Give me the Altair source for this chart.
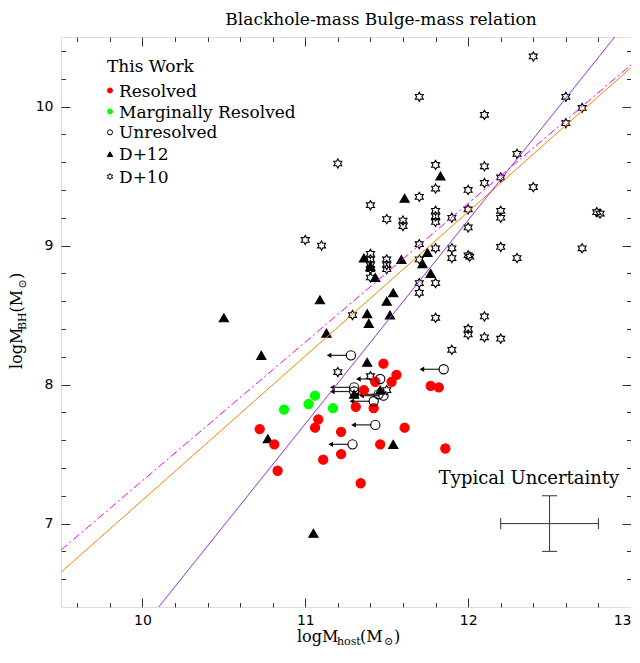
import altair as alt
import pandas as pd

# ---------------- data ----------------
resolved_x = [11.48, 11.56, 11.53, 11.43, 11.36, 11.77, 11.82, 11.31, 11.42, 11.08, 11.06,
              10.72, 10.81, 11.22, 11.61, 11.46, 11.86, 11.22, 11.11, 10.83, 11.34]
resolved_y = [8.15, 8.07, 8.02, 8.02, 7.96, 7.99, 7.98, 7.84, 7.83, 7.75, 7.69,
              7.68, 7.57, 7.66, 7.69, 7.57, 7.54, 7.50, 7.46, 7.38, 7.29]

marginal_x = [10.87, 11.02, 11.06, 11.17]
marginal_y = [7.82, 7.86, 7.92, 7.83]

unresolved_x = [11.28, 11.85, 11.46, 11.30, 11.30, 11.45, 11.48, 11.42, 11.43, 11.29]
unresolved_y = [8.21, 8.11, 8.04, 7.98, 7.95, 7.93, 7.92, 7.88, 7.71, 7.57]
upper_limit_len = 0.15

d12_x = [11.83, 11.61, 11.36, 11.59, 11.75, 11.72, 11.40, 11.43, 11.77, 11.54, 11.50, 11.09,
         11.38, 11.39, 11.52, 11.13, 10.73, 11.38, 10.77, 11.54, 11.30, 11.46, 10.50, 11.05]
d12_y = [9.50, 9.34, 8.91, 8.90, 8.95, 8.87, 8.85, 8.77, 8.80, 8.66, 8.60, 8.61,
         8.51, 8.44, 8.50, 8.37, 8.21, 8.16, 7.61, 7.57, 7.93, 7.96, 8.48, 6.93]

d10_x = [12.40, 11.70, 12.10, 12.60, 12.70, 12.60, 12.30, 11.20, 11.80, 12.10, 11.80, 12.10,
         12.20, 12.40, 12.00, 11.40, 11.70, 11.50, 11.60, 11.60, 11.80, 11.80, 11.80, 11.90,
         12.00, 12.20, 12.20, 12.79, 12.81, 12.00, 11.00, 11.10, 11.70, 11.80, 11.90, 11.90,
         12.00, 12.01, 12.20, 12.30, 12.70, 11.40, 11.40, 11.40, 11.40, 11.40, 11.50, 11.50,
         11.50, 11.70, 11.70, 11.70, 11.80, 11.29, 11.80, 12.00, 12.00, 12.10, 12.10, 12.20,
         11.90, 11.20, 11.40, 11.50]
d10_y = [10.36, 10.07, 9.94, 10.07, 9.99, 9.88, 9.66, 9.59, 9.58, 9.57, 9.41, 9.45,
         9.49, 9.42, 9.40, 9.29, 9.35, 9.19, 9.18, 9.14, 9.25, 9.21, 9.17, 9.20,
         9.26, 9.25, 9.20, 9.24, 9.23, 9.13, 9.04, 9.00, 9.01, 8.98, 8.98, 8.91,
         8.93, 8.92, 8.99, 8.91, 8.98, 8.94, 8.90, 8.86, 8.83, 8.77, 8.90, 8.86,
         8.83, 8.90, 8.73, 8.66, 8.73, 8.50, 8.48, 8.40, 8.36, 8.49, 8.34, 8.33,
         8.25, 8.09, 8.06, 7.96]

# fit lines (end points)
fit_names = ["orange", "magenta", "purple"]
fit_x0 = [9.50, 9.50, 10.10]
fit_y0 = [6.65, 6.81, 6.40]
fit_x1 = [13.00, 13.00, 12.90]
fit_y1 = [10.28, 10.30, 10.50]

# typical uncertainty
err_x = [12.5]
err_y = [7.0]
err_dx = [0.3]
err_dy = [0.2]

categories = ["Resolved", "Marginally Resolved", "Unresolved", "D+12", "D+10"]
x_major = [10, 11, 12, 13]
x_minor = [9.6, 9.8, 10.2, 10.4, 10.6, 10.8, 11.2, 11.4, 11.6, 11.8, 12.2, 12.4, 12.6, 12.8]
y_major = [7, 8, 9, 10]
y_minor = [6.6, 6.8, 7.2, 7.4, 7.6, 7.8, 8.2, 8.4, 8.6, 8.8, 9.2, 9.4, 9.6, 9.8, 10.2, 10.4]

title_text = "Blackhole-mass Bulge-mass relation"
legend_title = "This Work"
unc_text = "Typical Uncertainty"

# ---------------- build tables ----------------
rows = []
for cat, xs_, ys_ in [("D+10", d10_x, d10_y), ("D+12", d12_x, d12_y),
                      ("Resolved", resolved_x, resolved_y),
                      ("Marginally Resolved", marginal_x, marginal_y),
                      ("Unresolved", unresolved_x, unresolved_y)]:
    for a, b in zip(xs_, ys_):
        rows.append({"x": a, "y": b, "cat": cat})
pts = pd.DataFrame(rows)
unres = pd.DataFrame({"x": unresolved_x, "y": unresolved_y, "L": upper_limit_len})
fits = pd.DataFrame({
    "name": fit_names * 2,
    "x": fit_x0 + fit_x1,
    "y": fit_y0 + fit_y1,
})
err = pd.DataFrame({"x": err_x, "y": err_y, "dx": err_dx, "dy": err_dy})

SERIF = "DejaVu Serif"
SANS = "DejaVu Sans"
HEX = ("M0,-1L0.289,-0.5L0.866,-0.5L0.577,0L0.866,0.5L0.289,0.5L0,1L-0.289,0.5"
       "L-0.866,0.5L-0.577,0L-0.866,-0.5L-0.289,-0.5Z")
fills = ["#ff0000", "#00ff00", "transparent", "#000000", "transparent"]
strokes = ["#ff0000", "#00ff00", "#000000", "#000000", "#000000"]
shapes = ["circle", "circle", "circle", "triangle-up", HEX]
sizes = [85, 85, 72, 50, 80]
legend_sizes = [25, 25, 25, 30, 36]

xs = alt.Scale(domain=[9.5, 13], nice=False, zero=False)
ys = alt.Scale(domain=[6.4, 10.5], nice=False, zero=False)


def ax(orient, values, size, labels):
    return alt.Axis(orient=orient, values=values, tickSize=size, offset=-size, domain=False,
                    grid=False, labels=labels, title=None, tickColor="#333", tickWidth=1,
                    labelFont=SANS, labelFontSize=14, labelColor="black",
                    labelPadding=8 if orient in ("left", "right") else 6,
                    labelFlush=(orient == "bottom"), labelOverlap=False)


def X(field="x", axis=None):
    return alt.X(f"{field}:Q", scale=xs, axis=axis)


def Y(field="y", axis=None):
    return alt.Y(f"{field}:Q", scale=ys, axis=axis)


# fit lines
line_orange = alt.Chart(fits).transform_filter(alt.datum.name == "orange").mark_line(
    color="#ff8000", strokeWidth=1, clip=True).encode(x=X(), y=Y())
line_magenta = alt.Chart(fits).transform_filter(alt.datum.name == "magenta").mark_line(
    color="#ff00ff", strokeWidth=1, strokeDash=[8, 3, 2, 3], clip=True).encode(x=X(), y=Y())
line_purple = alt.Chart(fits).transform_filter(alt.datum.name == "purple").mark_line(
    color="#9a30e0", strokeWidth=1, clip=True).encode(x=X(), y=Y())

# upper-limit arrows
shaft = alt.Chart(unres).transform_calculate(
    xs0="datum.x - 0.025", xe="datum.x - datum.L + 0.02").mark_rule(
    color="#222", strokeWidth=1.2).encode(x=X("xs0"), x2="xe:Q", y=Y())
head = alt.Chart(unres).transform_calculate(xh="datum.x - datum.L + 0.016").mark_point(
    shape="triangle-left", filled=True, color="black", size=28, opacity=1).encode(
    x=X("xh"), y=Y())

points = alt.Chart(pts).mark_point(filled=True, opacity=1, strokeWidth=1.1).encode(
    x=X(), y=Y(),
    fill=alt.Fill("cat:N", scale=alt.Scale(domain=categories, range=fills), legend=None),
    stroke=alt.Stroke("cat:N", scale=alt.Scale(domain=categories, range=strokes), legend=None),
    shape=alt.Shape("cat:N", scale=alt.Scale(domain=categories, range=shapes), legend=None),
    size=alt.Size("cat:N", scale=alt.Scale(domain=categories, range=sizes), legend=None),
)

# typical uncertainty cross
errc = alt.Chart(err).transform_calculate(
    xl="datum.x - datum.dx", xr="datum.x + datum.dx",
    yl="datum.y - datum.dy", yh="datum.y + datum.dy")
eh = errc.mark_rule(color="#333", strokeWidth=1).encode(x=X("xl"), x2="xr:Q", y=Y())
ev = errc.mark_rule(color="#333", strokeWidth=1).encode(x=X(), y=Y("yl"), y2="yh:Q")
cap_v = "M0,-1L0,1"
cap_h = "M-1,0L1,0"
c1 = errc.mark_point(shape=cap_v, size=120, stroke="#333", strokeWidth=1, opacity=1).encode(x=X("xl"), y=Y())
c2 = errc.mark_point(shape=cap_v, size=120, stroke="#333", strokeWidth=1, opacity=1).encode(x=X("xr"), y=Y())
c3 = errc.mark_point(shape=cap_h, size=225, stroke="#333", strokeWidth=1, opacity=1).encode(x=X(), y=Y("yl"))
c4 = errc.mark_point(shape=cap_h, size=225, stroke="#333", strokeWidth=1, opacity=1).encode(x=X(), y=Y("yh"))


def label(txt, x, y, size, angle=0, dx=0, dy=0, align="left"):
    return alt.Chart(pd.DataFrame({"t": [txt]})).mark_text(
        font=SERIF, fontSize=size, angle=angle, dx=dx, dy=dy, align=align,
        baseline="alphabetic", color="black").encode(text="t:N", x=alt.value(x), y=alt.value(y))


title = label(title_text, 320, -12, 17, align="center")
unc = label(unc_text, 468, 447, 18, align="center")

# legend ("This Work")
leg_layers = [label(legend_title, 46, 35, 17)]
leg_rows_y = [53.5, 74.5, 95.3, 117.2, 139.6]
for i, cat in enumerate(categories):
    sym = alt.Chart(pd.DataFrame({"t": [cat]})).mark_point(
        shape=shapes[i], fill=fills[i], stroke=strokes[i], strokeWidth=1, opacity=1,
        size=legend_sizes[i], filled=True).encode(x=alt.value(49), y=alt.value(leg_rows_y[i]))
    leg_layers += [sym, label(cat, 58, leg_rows_y[i] + 6, 17)]

# x-axis title  logM_host(M_sun)
XB = 605
xt = [label("logM", 236, XB, 16), label("host", 276, XB, 11, dy=3),
      label("(M", 299, XB, 16), label("\u2299", 323, XB, 11, dy=3),
      label(")", 333, XB, 16)]
# y-axis title  logM_BH(M_sun), rotated
YX, YY = -39, 332
yt = [label("logM", YX, YY, 16, angle=270), label("BH", YX, YY, 11, angle=270, dx=39, dy=4),
      label("(M", YX, YY, 16, angle=270, dx=56.5), label("\u2299", YX, YY, 11, angle=270, dx=80.5, dy=4),
      label(")", YX, YY, 16, angle=270, dx=90)]

# axis carrier layers (invisible)
base = alt.Chart(pts).mark_point(opacity=0)
axA = base.encode(x=X(axis=ax("bottom", x_major, 9, True)), y=Y(axis=ax("left", y_major, 9, True)))
axB = base.encode(x=X(axis=ax("bottom", x_minor, 4.5, False)), y=Y(axis=ax("left", y_minor, 4.5, False)))
axC = base.encode(x=X(axis=ax("top", x_major, 9, False)), y=Y(axis=ax("right", y_major, 9, False)))
axD = base.encode(x=X(axis=ax("top", x_minor, 4.5, False)), y=Y(axis=ax("right", y_minor, 4.5, False)))

chart = alt.layer(
    axA, axB, axC, axD,
    shaft, head, points,
    line_orange, line_magenta, line_purple,
    eh, ev, c1, c2, c3, c4, unc, title, *leg_layers, *xt, *yt,
).resolve_axis(x="independent", y="independent").properties(
    width=570, height=570,
    autosize=alt.AutoSizeParams(type="none"),
    padding={"left": 53, "top": 29, "right": 0, "bottom": 44},
).configure_view(stroke="black", strokeWidth=1.3).configure(background="white")

chart.save("out.html", embed_options={"renderer": "svg", "actions": False})
